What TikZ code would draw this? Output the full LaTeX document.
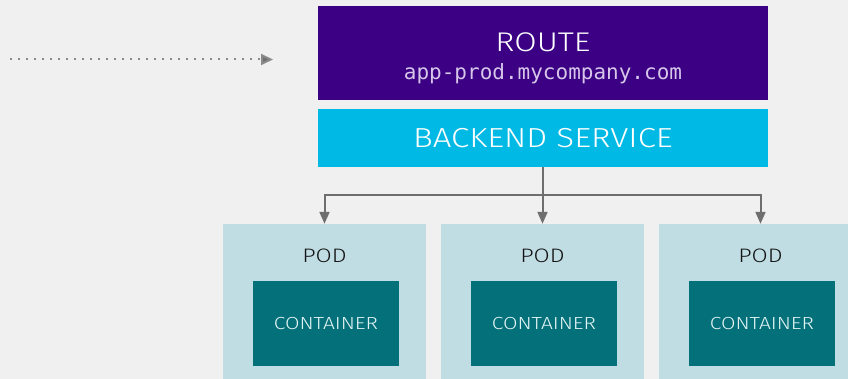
\documentclass[tikz,border=0pt]{standalone}
\usepackage{fontspec}
\setmainfont{Fira Sans Light}[FakeStretch=1.2]
\setmonofont{DejaVu Sans Mono}
\usetikzlibrary{arrows.meta}
\definecolor{bg}{HTML}{F0F0F0}
\definecolor{routebg}{HTML}{3B0083}
\definecolor{routesub}{HTML}{D6C6EA}
\definecolor{svcbg}{HTML}{00B9E4}
\definecolor{podbg}{HTML}{C0DDE3}
\definecolor{ctrbg}{HTML}{04707A}
\definecolor{ctrtext}{HTML}{E4F4F4}
\definecolor{wire}{HTML}{6E6E6E}
\definecolor{dots}{HTML}{8A8A8A}
\tikzset{
  box/.style={draw=none, inner sep=0pt, align=center},
  routebox/.style={box, fill=routebg, minimum width=450pt, minimum height=94pt},
  svcbox/.style={box, fill=svcbg, minimum width=450pt, minimum height=58pt,
    text=white, font=\fontsize{27.5}{30}\selectfont},
  podbox/.style={box, fill=podbg, minimum width=203pt, minimum height=170pt},
  ctrbox/.style={box, fill=ctrbg, minimum width=146pt, minimum height=85pt,
    text=ctrtext, font=\fontsize{17.5}{20}\selectfont},
  podlabel/.style={inner sep=0pt, text=black!92, font=\fontsize{19.5}{24}\selectfont},
  conn/.style={draw=wire, line width=2pt,
    -{Triangle[length=12pt, width=10pt]}},
  dotline/.style={draw=dots, line width=2pt, dash pattern=on 2pt off 6pt,
    -{Triangle[length=12pt, width=11pt, fill=wire]}},
}
\begin{document}
\begin{tikzpicture}[x=1pt, y=-1pt]
  % canvas
  \clip (0,0) rectangle (848,379);
  \fill[bg] (0,0) rectangle (848,379);

  % route and service
  \node[routebox] (route) at (543,53) {};
  \node[text=white, inner sep=0pt, font=\fontsize{27}{30}\selectfont] (routetitle) at (543,42) {ROUTE};
  \node[text=routesub, inner sep=0pt, font=\ttfamily\fontsize{21}{22}\selectfont] (routehost) at (543,74) {app-prod.mycompany.com};
  \node[svcbox] (svc) at (543,138) {BACKEND SERVICE};

  % pods with their containers
  \node[podbox] (pod1) at (324.5,309) {};
  \node[podbox] (pod2) at (542.5,309) {};
  \node[podbox] (pod3) at (760.5,309) {};
  \node[podlabel] (podl1) at (324.5,256) {POD};
  \node[podlabel] (podl2) at (542.5,256) {POD};
  \node[podlabel] (podl3) at (760.5,256) {POD};
  \node[ctrbox] (ctr1) at (326,323.5) {CONTAINER};
  \node[ctrbox] (ctr2) at (544,323.5) {CONTAINER};
  \node[ctrbox] (ctr3) at (762,323.5) {CONTAINER};

  % service fan-out to the pods
  \coordinate (bus) at (542.5,195);
  \draw[draw=wire, line width=2pt] (svc.south -| bus) -- (bus);
  \draw[conn] (bus) -| (pod1.north);
  \draw[conn] (bus) -- (pod2.north);
  \draw[conn] (bus) -| (pod3.north);

  % incoming traffic
  \coordinate (src) at (10,59.5);
  \coordinate (dst) at (273,59.5);
  \draw[dotline] (src) -- (dst);
\end{tikzpicture}
\end{document}
